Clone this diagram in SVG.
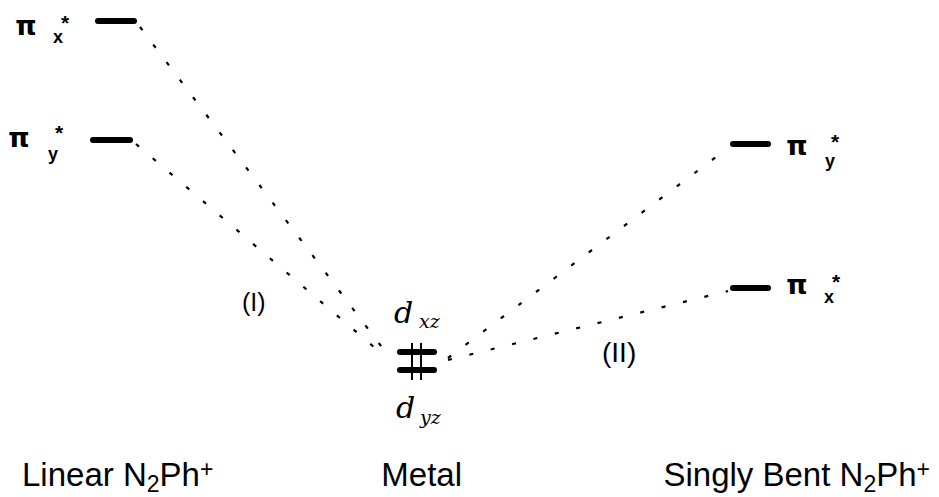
<svg xmlns="http://www.w3.org/2000/svg" width="939" height="497" viewBox="0 0 939 497">
<style>
.lvl{stroke:#000;stroke-width:6;stroke-linecap:round;fill:none}
.dot{stroke:#000;stroke-width:2.2;stroke-dasharray:4 18;fill:none}
.t{font-family:"Liberation Sans",Arial,sans-serif;fill:#000}
.pi{font-family:"DejaVu Sans",sans-serif;font-size:27px;font-weight:bold;fill:#000;text-anchor:middle}
.sub{font-family:"Liberation Sans",Arial,sans-serif;font-size:18px;font-weight:bold;fill:#000;text-anchor:middle}
.st{font-family:"Liberation Sans",Arial,sans-serif;font-size:21px;font-weight:bold;fill:#000;text-anchor:middle}
.d{font-family:"DejaVu Serif","Liberation Serif",serif;font-style:italic;fill:#000}
</style>
<rect width="939" height="497" fill="#fff"/>
<g id="connectors">
<line class="dot" x1="140" y1="27" x2="384" y2="350"/>
<line class="dot" x1="136" y1="144" x2="381" y2="353"/>
<line class="dot" x1="448" y1="358" x2="728" y2="148"/>
<line class="dot" x1="448" y1="360" x2="728" y2="291"/>
</g>
<g id="pix_left">
<line class="lvl" x1="98" y1="21" x2="134" y2="21"/>
<text class="pi" x="26" y="35">π</text>
<text class="sub" x="58" y="43">x</text>
<text class="st" x="65" y="30">*</text>
</g>
<g id="piy_left">
<line class="lvl" x1="93" y1="140" x2="130" y2="140"/>
<text class="pi" x="19" y="147">π</text>
<text class="sub" x="53" y="160">y</text>
<text class="st" x="59" y="140">*</text>
</g>
<g id="piy_right">
<line class="lvl" x1="733" y1="144" x2="768" y2="144"/>
<text class="pi" x="797" y="155">π</text>
<text class="sub" x="830" y="167">y</text>
<text class="st" x="835" y="149">*</text>
</g>
<g id="pix_right">
<line class="lvl" x1="733" y1="288" x2="768" y2="288"/>
<text class="pi" x="797" y="294">π</text>
<text class="sub" x="829" y="303">x</text>
<text class="st" x="836" y="289">*</text>
</g>
<g id="metal">
<line class="lvl" x1="400" y1="352" x2="434" y2="352"/>
<line class="lvl" x1="400" y1="370" x2="434" y2="370"/>
<line x1="412" y1="343" x2="412" y2="380" stroke="#000" stroke-width="2"/>
<line x1="421" y1="343" x2="421" y2="380" stroke="#000" stroke-width="2"/>
<text class="d" x="394" y="323" font-size="30">d</text>
<text class="d" x="419" y="328" font-size="19">xz</text>
<text class="d" x="396" y="418" font-size="30">d</text>
<text class="d" x="420" y="424" font-size="19">yz</text>
</g>
<g id="label_I"><text class="t" x="242" y="311" font-size="25">(I)</text></g>
<g id="label_II"><text class="t" x="602" y="362" font-size="28">(II)</text></g>
<g id="label_linear"><text class="t" x="22" y="486" font-size="33">Linear N<tspan font-size="23" dy="6">2</tspan><tspan dy="-6">Ph</tspan><tspan font-size="23" dy="-9">+</tspan></text></g>
<g id="label_metal"><text class="t" x="462" y="486" font-size="33" text-anchor="end">Metal</text></g>
<g id="label_bent"><text class="t" x="930" y="486" font-size="33" text-anchor="end">Singly Bent N<tspan font-size="23" dy="6">2</tspan><tspan dy="-6">Ph</tspan><tspan font-size="23" dy="-9">+</tspan></text></g>
</svg>
